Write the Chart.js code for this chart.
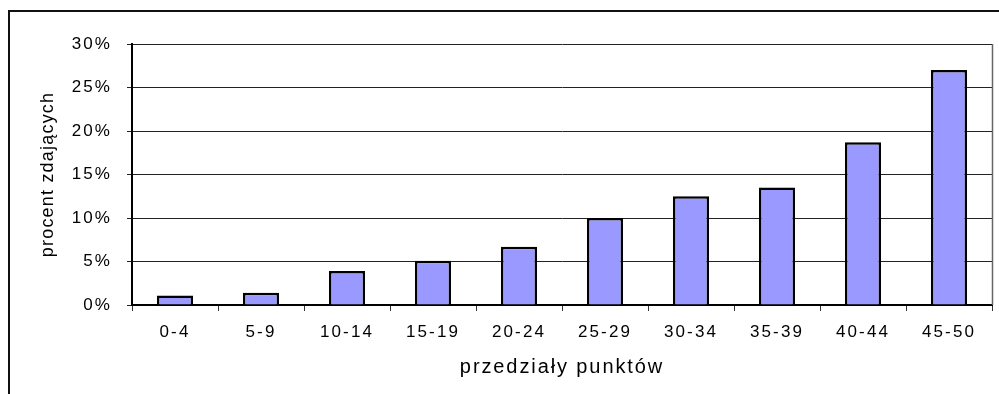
<!DOCTYPE html>
<html>
<head>
<meta charset="utf-8">
<script src="https://cdn.jsdelivr.net/npm/chart.js@4.4.1/dist/chart.umd.min.js"></script>
<style>
  html, body { margin: 0; padding: 0; background: #fff; }
  #wrap { position: relative; width: 999px; height: 394px; overflow: hidden; }
  #frame { position: absolute; left: 8px; top: 10px; width: 1200px; height: 500px;
           border-left: 2px solid #111; border-top: 2px solid #111; }
  canvas { position: absolute; left: 0; top: 0; }
</style>
</head>
<body>
<div id="wrap">
  <div id="frame"></div>
  <canvas id="chart" width="999" height="394"></canvas>
</div>
<script>
// --- DATA ---
const categories = ['0-4', '5-9', '10-14', '15-19', '20-24', '25-29', '30-34', '35-39', '40-44', '45-50'];
const percentValues = [1.1, 1.4, 3.9, 5.1, 6.7, 10.0, 12.5, 13.5, 18.7, 27.0];
const yTicks = [0, 5, 10, 15, 20, 25, 30];
const xTitle = 'przedziały punktów';
const yTitle = 'procent zdających';

const font = 'Liberation Sans, Arial, sans-serif';

// spaced-out lettering like the original, picked by font size
const spacing = {
    id: 'spacing',
    beforeDraw(chart) {
        const ctx = chart.ctx;
        if (ctx._spaced) return;
        const orig = ctx.fillText;
        ctx.fillText = function (t, x, y, w) {
            if (this.font.indexOf('20px') >= 0) this.letterSpacing = '1.9px';
            else if (this.font.indexOf('18px') >= 0) this.letterSpacing = '1.2px';
            else this.letterSpacing = '2.1px';
            if (w === undefined) orig.call(this, t, x, y);
            else orig.call(this, t, x, y, w);
        };
        ctx._spaced = true;
    }
};

// plot area right border
const plotBorder = {
    id: 'plotBorder',
    afterDraw(chart) {
        const { ctx, chartArea: a } = chart;
        ctx.save();
        ctx.strokeStyle = '#666';
        ctx.lineWidth = 1.5;
        ctx.beginPath();
        ctx.moveTo(a.right + 0.5, a.top);
        ctx.lineTo(a.right + 0.5, a.bottom);
        ctx.stroke();
        ctx.restore();
    }
};

new Chart(document.getElementById('chart'), {
    type: 'bar',
    data: {
        labels: categories,
        datasets: [{
            data: percentValues,
            backgroundColor: '#9999ff',
            borderColor: '#000',
            borderWidth: 2.5,
            barPercentage: 0.42,
            categoryPercentage: 1
        }]
    },
    options: {
        responsive: false,
        animation: false,
        events: [],
        layout: { padding: { top: 44, right: 7, left: 0, bottom: 0 } },
        plugins: { legend: { display: false }, tooltip: { enabled: false } },
        scales: {
            x: {
                grid: { drawOnChartArea: false, tickLength: 6, color: '#333', offset: true },
                border: { color: '#000', width: 2 },
                ticks: { color: '#000', padding: 11, font: { family: font, size: 17 }, maxRotation: 0 },
                title: { display: true, text: xTitle, color: '#000',
                         font: { family: font, size: 20 }, padding: { top: 0, bottom: 15 } },
                afterFit(s) { s.height = 89; }
            },
            y: {
                min: 0, max: 30,
                afterBuildTicks(s) { s.ticks = yTicks.map(v => ({ value: v })); },
                grid: { color: '#222', lineWidth: 1, tickLength: 5 },
                border: { color: '#000', width: 2 },
                ticks: { color: '#000', padding: 15, font: { family: font, size: 17 },
                         callback: v => v + '%' },
                title: { display: true, text: yTitle, color: '#000',
                         font: { family: font, size: 18 }, padding: { top: 37, bottom: 0 } },
                afterFit(s) { s.width = 132; }
            }
        }
    },
    plugins: [spacing, plotBorder]
});
</script>
</body>
</html>
